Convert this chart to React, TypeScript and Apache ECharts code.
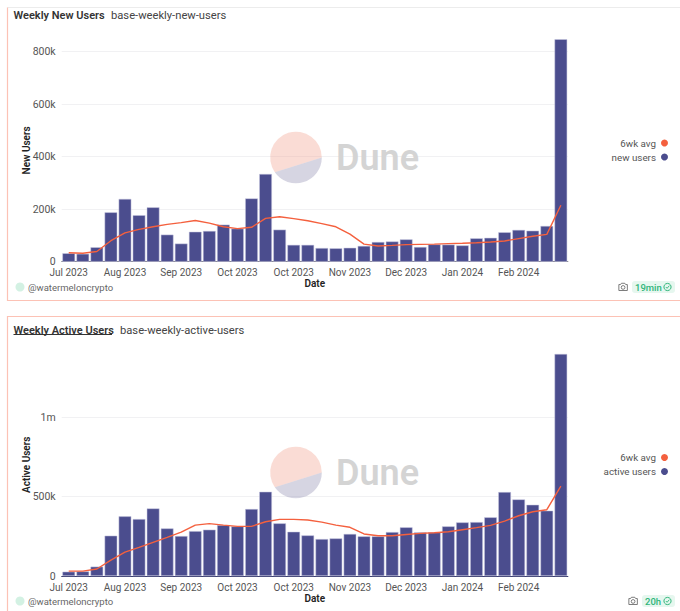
import React, { useEffect, useRef } from "react";
import * as echarts from "echarts";

const weeks = Array.from({ length: 36 }, (_, i) => `W${i + 1}`);
const tickLabels = ["Jul 2023", "Aug 2023", "Sep 2023", "Oct 2023", "Oct 2023", "Nov 2023", "Dec 2023", "Jan 2024", "Feb 2024"];
const newUsers = [32000, 30000, 55000, 188000, 239000, 177000, 207000, 103000, 69000, 114000, 117000, 141000, 126000, 241000, 334000, 122000, 64000, 64000, 52000, 51000, 53000, 60000, 75000, 77000, 85000, 56000, 66000, 65000, 62000, 89000, 91000, 112000, 121000, 118000, 136000, 847000];
const newAvg = [34000, 32000, 39000, 80000, 110000, 123000, 133000, 142000, 149000, 157000, 147000, 133000, 126000, 131000, 165000, 171000, 164000, 156000, 145000, 133000, 105000, 67000, 60000, 62000, 65000, 66000, 67000, 69000, 70000, 72000, 75000, 79000, 88000, 97000, 104000, 215000];
const activeUsers = [27000, 29000, 59000, 254000, 376000, 359000, 426000, 300000, 252000, 283000, 292000, 321000, 313000, 422000, 531000, 332000, 279000, 256000, 233000, 237000, 265000, 250000, 250000, 277000, 307000, 275000, 275000, 313000, 338000, 340000, 370000, 529000, 483000, 449000, 412000, 1400000];
const activeAvg = [31000, 31000, 44000, 100000, 151000, 180000, 212000, 243000, 277000, 321000, 330000, 321000, 313000, 313000, 342000, 357000, 357000, 353000, 340000, 321000, 307000, 265000, 254000, 254000, 262000, 269000, 273000, 279000, 292000, 305000, 319000, 346000, 380000, 405000, 418000, 567000];

const BAR = "#4b4d8e";
const LINE = "#f4603e";
const FONT = "Roboto, sans-serif";

echarts.graphic.registerShape(
  "cameraIcon",
  echarts.graphic.extendPath("M1 3 H3 L4 1.5 H8 L9 3 H11 V10 H1 Z M6 4.2 A2.2 2.2 0 1 0 6 8.6 A2.2 2.2 0 1 0 6 4.2 Z", {})
);
echarts.graphic.registerShape(
  "upperChord",
  echarts.graphic.extendPath("M25.8 0 A25.8 25.8 0 1 0 -21.2 14.7 Z", {})
);
echarts.graphic.registerShape(
  "lowerChord",
  echarts.graphic.extendPath("M25.8 0 A25.8 25.8 0 0 1 -21.2 14.7 Z", {})
);

function fmt(v: number) {
  if (v === 0) return "0";
  if (v >= 1000000) return `${v / 1000000}m`;
  return `${v / 1000}k`;
}

function axes(i: number, yName: string, max: number, interval: number) {
  return {
    xAxis: {
      type: "category",
      gridIndex: i,
      data: weeks,
      name: "Date",
      nameLocation: "middle",
      nameGap: 17,
      nameMoveOverlap: false,
      nameTextStyle: { color: "#222", fontFamily: FONT, fontSize: 10, fontWeight: 600 },
      axisLine: { lineStyle: { color: i === 0 ? "#8a8a96" : "#3c3f70", width: 1 } },
      axisTick: { show: false },
      axisLabel: {
        interval: 3,
        margin: 6,
        color: "#555",
        fontFamily: FONT,
        fontSize: 10,
        formatter: (_: string, idx: number) => tickLabels[idx / 4] ?? "",
      },
    },
    yAxis: {
      type: "value",
      gridIndex: i,
      min: 0,
      max,
      interval,
      name: yName,
      nameLocation: "middle",
      nameGap: 30,
      nameMoveOverlap: false,
      nameTextStyle: { color: "#222", fontFamily: FONT, fontSize: 10, fontWeight: 600 },
      axisLine: { show: false },
      axisTick: { show: false },
      splitLine: { show: true, showMaxLine: false, lineStyle: { color: "#f1f1f3", width: 1 } },
      axisLabel: { showMaxLabel: false, margin: 6, color: "#555", fontFamily: FONT, fontSize: 10.5, formatter: fmt },
    },
  };
}

function barSeries(name: string, i: number, data: number[]) {
  return {
    name,
    type: "bar",
    xAxisIndex: i,
    yAxisIndex: i,
    data,
    barCategoryGap: "10%",
    itemStyle: { color: BAR, borderColor: "#c9c9e0", borderWidth: 0.5 },
    z: 2,
  };
}

function lineSeries(name: string, i: number, data: number[]) {
  return {
    name,
    type: "line",
    xAxisIndex: i,
    yAxisIndex: i,
    data,
    showSymbol: false,
    symbol: "circle",
    itemStyle: { color: LINE },
    lineStyle: { color: LINE, width: 1.4 },
    z: 3,
  };
}

function watermark(cx: number, cy: number) {
  return [
    { type: "upperChord", z: 1, x: cx, y: cy, style: { fill: "rgba(242,168,150,0.4)" } },
    { type: "lowerChord", z: 1, x: cx, y: cy, style: { fill: "rgba(152,150,182,0.4)" } },
    {
      type: "text",
      z: 1,
      x: 336,
      y: cy + 0.5,
      style: { text: "Dune", fill: "#d4d4d4", font: `600 36px ${FONT}`, textVerticalAlign: "middle" },
    },
  ];
}

function title(x1: number, x2: number, y: number, bold: string, sub: string) {
  return [
    { type: "text", x: x1, y, style: { text: bold, fill: "#333", font: `600 11px ${FONT}`, textVerticalAlign: "middle" } },
    { type: "text", x: x2, y, style: { text: sub, fill: "#444", font: `400 11.2px ${FONT}`, textVerticalAlign: "middle" } },
  ];
}

function footer(y: number, badgeX: number, badge: string) {
  const w = 675 - badgeX;
  const cx = badgeX + w - 7.5;
  return [
    { type: "circle", shape: { cx: 20, cy: y, r: 4.5 }, style: { fill: "#d3f1e3" } },
    { type: "text", x: 28, y, style: { text: "@watermeloncrypto", fill: "#666", font: `400 9.5px ${FONT}`, textVerticalAlign: "middle" } },
    {
      type: "cameraIcon",
      x: badgeX - 14,
      y: y - 5,
      scaleX: 0.85,
      scaleY: 0.85,
      style: { fill: "none", stroke: "#666", lineWidth: 1 },
    },
    { type: "rect", shape: { x: badgeX, y: y - 6, width: w, height: 12, r: 3 }, style: { fill: "#e6f7ef" } },
    { type: "text", x: badgeX + 3, y, style: { text: badge, fill: "#2fb57a", font: `500 9.5px ${FONT}`, textVerticalAlign: "middle" } },
    { type: "circle", shape: { cx, cy: y, r: 3.6 }, style: { fill: "none", stroke: "#2fb57a", lineWidth: 1 } },
    {
      type: "polyline",
      shape: { points: [[cx - 1.7, y], [cx - 0.4, y + 1.3], [cx + 1.8, y - 1.3]] },
      style: { fill: "none", stroke: "#2fb57a", lineWidth: 0.9 },
    },
  ];
}

const PINK = "#fcc2b5";

const frame = [
  { type: "line", shape: { x1: 7.5, y1: 7.5, x2: 680, y2: 7.5 }, style: { stroke: "#ececec", lineWidth: 1 } },
  { type: "polyline", shape: { points: [[7.5, 7.5], [7.5, 300.5], [680, 300.5]] }, style: { fill: "none", stroke: PINK, lineWidth: 1.2 } },
  { type: "polyline", shape: { points: [[7.5, 611], [7.5, 316.5], [680, 316.5]] }, style: { fill: "none", stroke: PINK, lineWidth: 1.2 } },
  { type: "line", shape: { x1: 13.5, y1: 334.5, x2: 112, y2: 334.5 }, style: { stroke: "#333", lineWidth: 1 } },
];

const legendBase = {
  orient: "vertical",
  align: "right",
  right: 7,
  icon: "circle",
  itemWidth: 7,
  itemHeight: 7,
  itemGap: 4,
  selectedMode: false,
  itemStyle: { borderWidth: 0 },
  textStyle: { color: "#555", fontFamily: FONT, fontSize: 9.8 },
};

export default function App() {
  const ref = useRef<HTMLDivElement>(null);
  useEffect(() => {
    const chart = echarts.init(ref.current!, undefined, { renderer: "svg" });
    const a0 = axes(0, "New Users", 848000, 200000);
    const a1 = axes(1, "Active Users", 1403000, 500000);
    chart.setOption({
      animation: false,
      backgroundColor: "#ffffff",
      grid: [
        { left: 61.7, width: 506.2, top: 39, height: 222.7 },
        { left: 61.7, width: 506.2, top: 353.5, height: 222.5 },
      ],
      xAxis: [a0.xAxis, a1.xAxis],
      yAxis: [a0.yAxis, a1.yAxis],
      legend: [
        { ...legendBase, data: ["6wk avg", "new users"], top: 133 },
        { ...legendBase, data: ["6wk avg", "active users"], top: 447.5 },
      ],
      series: [
        barSeries("new users", 0, newUsers),
        lineSeries("6wk avg", 0, newAvg),
        barSeries("active users", 1, activeUsers),
        lineSeries("6wk avg", 1, activeAvg),
      ],
      graphic: {
        elements: [
          ...frame,
          ...title(13.5, 111, 15.5, "Weekly New Users", "base-weekly-new-users"),
          ...title(13.5, 120, 330, "Weekly Active Users", "base-weekly-active-users"),
          ...watermark(296, 157.5),
          ...watermark(296, 472.5),
          ...footer(287, 632, "19min"),
          ...footer(601, 642, "20h"),
        ],
      },
    });
    return () => chart.dispose();
  }, []);
  return <div ref={ref} style={{ position: "absolute", left: 0, top: 0, width: 680, height: 611 }} />;
}
